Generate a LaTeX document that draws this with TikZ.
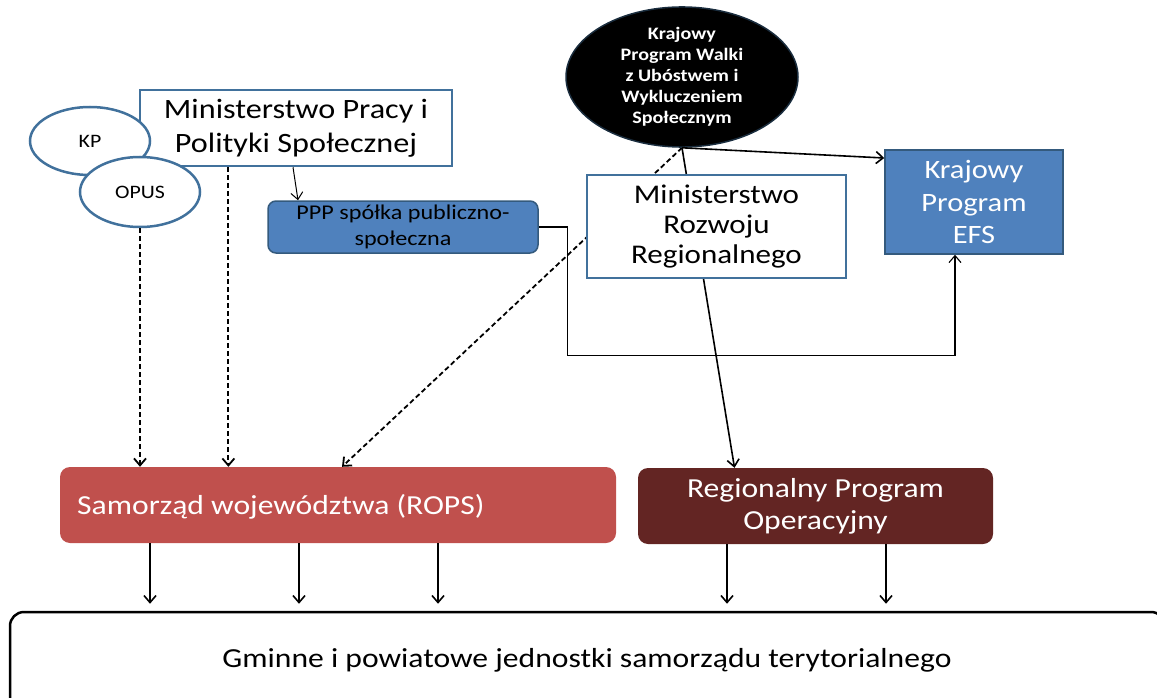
\documentclass[tikz,border=0pt]{standalone}
\usepackage{fontspec}
\setmainfont{Carlito}[FakeStretch=1.15]
\usepackage{tikz}
\usetikzlibrary{shapes,positioning,calc,arrows.meta,backgrounds}
\definecolor{boxblue}{HTML}{4F81BD}
\definecolor{lineblue}{HTML}{41719C}
\definecolor{ropsred}{HTML}{C0504D}
\definecolor{rpored}{HTML}{632523}

\begin{document}
\begin{tikzpicture}[x=1pt,y=-1pt,>={Straight Barb[length=7pt,width=12pt]}]
		\tikzstyle{white_box}=[draw=lineblue, line width=2.5pt, fill=white, inner sep=0pt, align=center];
		\tikzstyle{blue_box}=[draw=lineblue!80!black, line width=1.5pt, fill=boxblue, inner sep=0pt, align=center];
		\tikzstyle{oval}=[ellipse, draw=lineblue, line width=2.5pt, fill=white, inner sep=0pt];
		\tikzstyle{red_box}=[rounded corners=10pt, inner sep=0pt, text=white, align=center];
		\tikzstyle{conn}=[line width=1.6pt];
		\tikzstyle{dash_conn}=[line width=1.8pt, dash pattern=on 5pt off 3pt];
		
		\useasboundingbox (0,0) rectangle (1157,698);
		\clip (0,0) rectangle (1157,698);
		
		\node[white_box, minimum width=312, minimum height=76, font=\fontsize{28}{34}\selectfont] (mpips) at (296,128) {Ministerstwo Pracy i\\Polityki Społecznej};
		\node[oval, minimum width=120, minimum height=68, font=\fontsize{19}{23}\selectfont] (kp) at (90,141) {KP};
		\node[oval, minimum width=120, minimum height=70, font=\fontsize{19}{23}\selectfont] (opus) at (140,192) {OPUS};
		\node[blue_box, rounded corners=8pt, minimum width=270, minimum height=52, font=\fontsize{21}{26}\selectfont] (ppp) at (403,227) {PPP spółka publiczno-\\społeczna};
		\node[ellipse, draw=lineblue!40!black, line width=1.5pt, fill=black, text=white, inner sep=0pt, minimum width=232, minimum height=130, align=center, font=\bfseries\fontsize{17.5}{21}\selectfont] (kpwu) at (682,77) {Krajowy\\Program Walki\\z Ubóstwem i\\Wykluczeniem\\Społecznym};
		\node[white_box, minimum width=259, minimum height=103, font=\fontsize{27}{30}\selectfont] (mrr) at (716.5,226.5) {Ministerstwo\\Rozwoju\\Regionalnego};
		\node[blue_box, text=white, minimum width=178, minimum height=104, font=\fontsize{26.5}{32.5}\selectfont] (efs) at (974,202) {Krajowy\\Program\\EFS};
		\node[red_box, fill=ropsred, minimum width=556, minimum height=76] (rops) at (338,505) {};
		\node[anchor=west, text=white, inner sep=0pt, font=\fontsize{27.5}{32}\selectfont] (rops_txt) at (77,507) {Samorząd województwa (ROPS)};
		\node[red_box, fill=rpored, minimum width=355, minimum height=76, font=\fontsize{27.5}{32}\selectfont] (rpo) at (815.5,506) {Regionalny Program\\Operacyjny};
		\node[draw, line width=2.5pt, rounded corners=14pt, minimum width=1155, minimum height=98, inner sep=0pt] (gminne) at (587.5,661) {};
		\node[inner sep=0pt, font=\fontsize{27.5}{32}\selectfont] (gminne_txt) at (587,660) {Gminne i powiatowe jednostki samorządu terytorialnego};
		
		\begin{pgfonlayer}{background}
			\draw[dash_conn,->] (kpwu.south) -- ([xshift=4pt]rops.north);
			\draw[conn,->] (kpwu.south) -- ([xshift=-81pt]rpo.north);
		\end{pgfonlayer}
		\draw[conn,->] (kpwu.south) -- ([yshift=44pt]efs.west);
		\draw[dash_conn,->] (opus.south) -- (opus.south |- rops.north);
		\draw[dash_conn,->] ($(mpips.south west)!0.285!(mpips.south east)$) coordinate (mp_a) -- (mp_a |- rops.north);
		\draw[line width=1pt,->] ([xshift=-3pt]mpips.south) -- ([xshift=-105pt]ppp.north);
		\draw[line width=1.1pt,->] (ppp.east) -- ++(29,0) |- ([xshift=-19pt,yshift=-101pt]efs.south) -- ([xshift=-19pt]efs.south);
		
		\foreach \dx in {-188,-39,100}
			\draw[conn,->,shorten >=7pt] ([xshift=\dx pt]rops.south) -- ([xshift=\dx pt]rops.south |- gminne.north);
		\foreach \dx in {-88.5,70.5}
			\draw[conn,->,shorten >=7pt] ([xshift=\dx pt]rpo.south) -- ([xshift=\dx pt]rpo.south |- gminne.north);
	\end{tikzpicture}
\end{document}
